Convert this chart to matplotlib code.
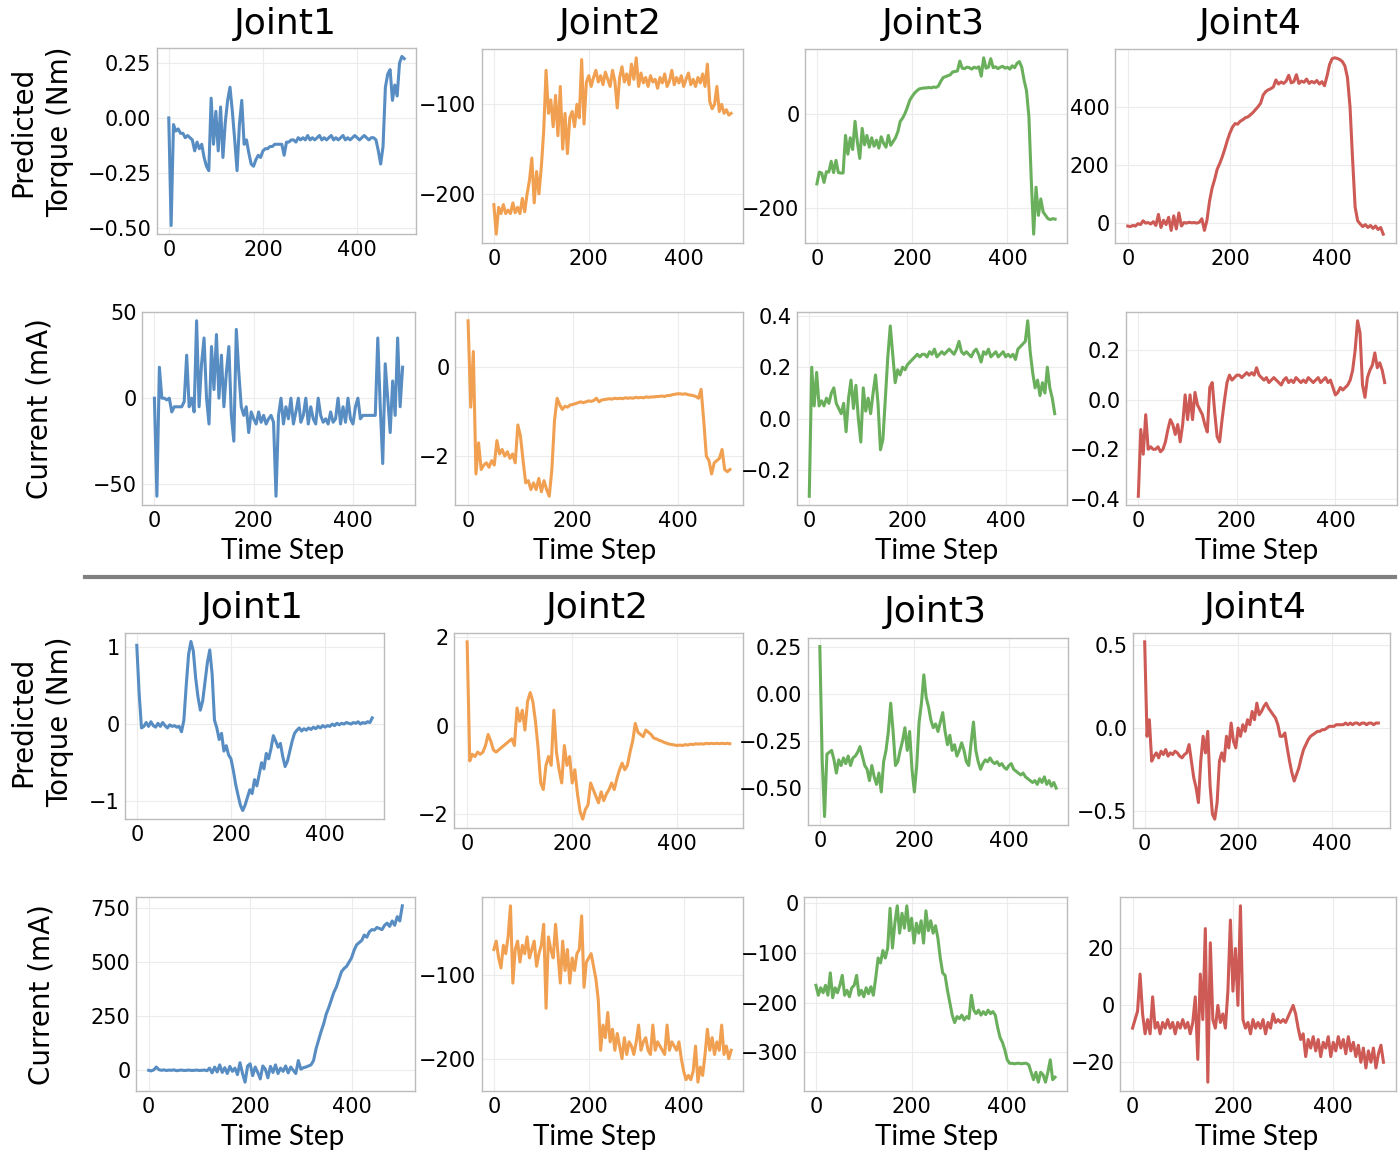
import numpy as np
import matplotlib
matplotlib.use('Agg')
import matplotlib.pyplot as plt

############################ DATA #########################################
t = np.arange(0, 501, 5)

# upper block: predicted torque (Nm)
tq_top_j1 = [0.0, -0.49, -0.03, -0.06, -0.05, -0.07, -0.07, -0.09, -0.08, -0.09,
             -0.1, -0.15, -0.11, -0.14, -0.12, -0.18, -0.22, -0.24, 0.09, -0.12,
             0.03, -0.15, 0.05, -0.18, -0.02, 0.08, 0.14, 0.03, -0.1, -0.24,
             -0.03, 0.08, -0.12, -0.1, -0.16, -0.21, -0.22, -0.19, -0.17, -0.18,
             -0.15, -0.14, -0.14, -0.13, -0.13, -0.12, -0.12, -0.12, -0.12, -0.17,
             -0.11, -0.11, -0.1, -0.1, -0.11, -0.09, -0.1, -0.09, -0.1, -0.08,
             -0.1, -0.09, -0.1, -0.09, -0.08, -0.1, -0.09, -0.1, -0.09, -0.08,
             -0.1, -0.09, -0.1, -0.09, -0.08, -0.1, -0.09, -0.1, -0.09, -0.08,
             -0.09, -0.1, -0.09, -0.08, -0.09, -0.1, -0.09, -0.09, -0.1, -0.15,
             -0.21, -0.13, 0.14, 0.2, 0.22, 0.08, 0.15, 0.1, 0.25, 0.28,
             0.27]
tq_top_j2 = [-212, -245, -215, -222, -212, -222, -218, -222, -210, -221,
             -215, -222, -205, -220, -200, -185, -160, -210, -175, -200,
             -170, -130, -62, -110, -95, -125, -90, -135, -80, -150,
             -110, -155, -115, -108, -125, -100, -115, -50, -122, -75,
             -68, -80, -70, -62, -75, -68, -78, -64, -72, -80,
             -62, -74, -104, -70, -58, -75, -66, -78, -55, -72,
             -48, -80, -65, -76, -70, -80, -68, -75, -72, -82,
             -70, -76, -66, -80, -74, -62, -78, -70, -76, -68,
             -80, -72, -65, -78, -72, -80, -70, -76, -66, -80,
             -55, -97, -105, -100, -80, -108, -100, -110, -106, -112,
             -110]
tq_top_j3 = [-148, -123, -125, -145, -122, -123, -100, -124, -98, -124,
             -125, -125, -45, -85, -50, -75, -15, -60, -94, -30,
             -65, -45, -70, -50, -68, -55, -72, -48, -62, -70,
             -45, -66, -58, -50, -37, -15, -8, 2, 15, 30,
             38, 45, 50, 54, 55, 56, 56, 57, 56, 58,
             57, 60, 70, 78, 80, 82, 84, 90, 91, 92,
             113, 98, 97, 100, 99, 96, 100, 98, 101, 81,
             120, 98, 100, 118, 99, 101, 97, 100, 102, 98,
             100, 96, 103, 99, 108, 112, 100, 72, 50, -5,
             -140, -255, -155, -215, -180, -208, -215, -222, -224, -222,
             -223]
tq_top_j4 = [-10, -12, -8, -10, -2, -5, 8, 0, 2, -3,
             5, -8, 30, -15, 10, -5, 20, -25, 25, -20,
             35, -10, 2, 0, 3, 1, 2, 0, 3, 15,
             -25, 10, 75, 120, 150, 185, 205, 228, 255, 285,
             310, 330, 342, 340, 350, 355, 362, 365, 372, 380,
             390, 400, 412, 440, 452, 458, 462, 468, 492, 478,
             485, 480, 488, 508, 482, 486, 510, 480, 488, 484,
             495, 480, 487, 482, 490, 478, 486, 472, 505, 545,
             565, 568, 566, 562, 555, 540, 500, 400, 220, 55,
             8, -3, -12, -5, -15, -8, -18, -10, -22, -15,
             -38]

# upper block: current (mA)
cur_top_j1 = [0, -57, 18, 0, 0, -1, 0, -8, -5, -5,
              -5, -5, -2, 25, -5, 0, -8, 45, -5, 20,
              35, 0, -15, 30, 5, 37, 0, 25, -5, 15,
              30, -10, -25, 40, 15, -5, -10, -5, -20, -8,
              -12, -15, -8, -14, -10, -15, -12, -10, -14, -57,
              -10, 0, -15, -5, -12, 0, -15, -8, 0, -14,
              -10, 0, -15, -5, -12, -15, 0, -10, -14, -12,
              -15, -8, -14, -12, 0, -15, -5, -14, 0, -12,
              -15, -5, 0, -12, -10, -10, -10, -10, -10, -10,
              35, -5, -38, 20, 0, -20, 10, -10, 35, -5,
              18]
cur_top_j2 = [1.04, -0.9, 0.35, -2.4, -1.7, -2.3, -2.2, -2.15, -2.25, -2.1,
              -2.2, -1.65, -1.95, -1.85, -2.0, -1.9, -2.05, -1.95, -2.15, -1.3,
              -1.55, -2.1, -2.6, -2.55, -2.75, -2.6, -2.75, -2.5, -2.8, -2.55,
              -2.75, -2.9, -2.3, -1.2, -0.7, -0.85, -0.95, -0.88, -0.9, -0.85,
              -0.84, -0.82, -0.8, -0.78, -0.8, -0.78, -0.76, -0.77, -0.75, -0.7,
              -0.78, -0.74, -0.73, -0.72, -0.71, -0.72, -0.7, -0.71, -0.7, -0.71,
              -0.69, -0.7, -0.69, -0.7, -0.68, -0.69, -0.68, -0.69, -0.67, -0.68,
              -0.67, -0.67, -0.66, -0.66, -0.65, -0.66, -0.64, -0.64, -0.62, -0.61,
              -0.6, -0.6, -0.61, -0.6, -0.62, -0.63, -0.64, -0.66, -0.7, -0.5,
              -1.2, -2.0, -2.1, -2.4, -2.15, -2.1, -2.05, -1.85, -2.3, -2.35,
              -2.3]
cur_top_j3 = [-0.3, 0.2, 0.05, 0.18, 0.05, 0.07, 0.05, 0.08, 0.06, 0.1,
              0.12, 0.06, 0.04, 0.02, 0.06, -0.05, 0.08, 0.15, 0.04, 0.13,
              0.0, -0.09, 0.12, 0.03, 0.08, 0.02, 0.1, 0.17, 0.06, -0.12,
              -0.08, 0.08, 0.24, 0.36, 0.25, 0.14, 0.19, 0.17, 0.2, 0.19,
              0.21, 0.22, 0.23, 0.24, 0.25, 0.24, 0.25, 0.25, 0.24, 0.26,
              0.25, 0.27, 0.24, 0.25, 0.26, 0.25, 0.26, 0.27, 0.26, 0.25,
              0.27, 0.3, 0.26, 0.25, 0.26, 0.25, 0.24, 0.26, 0.27, 0.25,
              0.22, 0.26, 0.25, 0.27, 0.24, 0.25, 0.26, 0.24, 0.25, 0.26,
              0.24, 0.25, 0.24, 0.25, 0.23, 0.27, 0.28, 0.29, 0.3, 0.38,
              0.26, 0.18, 0.12, 0.15, 0.09, 0.14, 0.1, 0.2, 0.12, 0.08,
              0.02]
cur_top_j4 = [-0.39, -0.12, -0.22, -0.06, -0.2, -0.19, -0.2, -0.2, -0.19, -0.21,
              -0.2, -0.17, -0.12, -0.08, -0.1, -0.14, -0.1, -0.17, -0.1, 0.02,
              -0.08, 0.02, -0.08, 0.03, -0.02, -0.04, -0.06, -0.1, -0.13, 0.05,
              0.07, -0.05, -0.15, -0.17, -0.08, 0.0, 0.07, 0.1, 0.08, 0.09,
              0.1, 0.1, 0.09, 0.1, 0.11, 0.1, 0.11, 0.1, 0.13, 0.1,
              0.09, 0.08, 0.09, 0.07, 0.08, 0.09, 0.08, 0.07, 0.06, 0.08,
              0.09, 0.07, 0.08, 0.07, 0.09, 0.08, 0.07, 0.08, 0.07, 0.09,
              0.08, 0.07, 0.08, 0.09, 0.07, 0.08, 0.09, 0.07, 0.08, 0.05,
              0.02, 0.03, 0.05, 0.04, 0.05, 0.06, 0.08, 0.12, 0.2, 0.32,
              0.27, 0.06, 0.01, 0.09, 0.12, 0.14, 0.19, 0.13, 0.15, 0.12,
              0.07]

# lower block: predicted torque (Nm)
tq_bot_j1 = [1.02, 0.4, -0.05, -0.03, 0.02, -0.03, 0.03, -0.02, -0.04, 0.01,
             -0.03, 0.02, -0.02, -0.05, -0.01, -0.03, -0.02, -0.04, -0.03, -0.1,
             0.05, 0.5, 0.9, 1.07, 0.95, 0.6, 0.35, 0.18, 0.3, 0.55,
             0.8, 0.96, 0.65, 0.05, -0.05, -0.2, -0.12, -0.35, -0.28, -0.4,
             -0.45, -0.6, -0.78, -0.92, -1.05, -1.12, -1.05, -0.95, -0.85, -0.9,
             -0.72, -0.8, -0.65, -0.5, -0.58, -0.38, -0.45, -0.32, -0.15, -0.22,
             -0.3, -0.25, -0.42, -0.55, -0.48, -0.35, -0.22, -0.12, -0.08, -0.05,
             -0.09, -0.06, -0.08, -0.05, -0.07, -0.04, -0.06, -0.03, -0.05, -0.02,
             -0.04, -0.02, -0.03, 0.0, -0.02, 0.01, -0.01, 0.01, 0.0, 0.02,
             0.01, 0.0, 0.02, 0.01, 0.03, 0.0, 0.02, 0.01, 0.03, 0.02,
             0.08]
tq_bot_j2 = [1.9, -0.8, -0.65, -0.7, -0.6, -0.65, -0.6, -0.45, -0.2, -0.35,
             -0.55, -0.6, -0.55, -0.5, -0.45, -0.4, -0.35, -0.3, -0.45, 0.4,
             0.1, 0.35, -0.1, 0.55, 0.75, 0.55, 0.1, -0.5, -1.3, -1.45,
             -0.9, -0.7, -0.9, 0.35, -0.6, -1.0, -1.3, -0.45, -0.9, -0.7,
             -1.3, -1.0, -1.55, -1.95, -2.12, -1.9, -1.8, -1.3, -1.45, -1.6,
             -1.75, -1.5, -1.7, -1.55, -1.45, -1.3, -1.45, -1.2, -1.0, -0.85,
             -1.0, -0.9, -0.6, -0.35, 0.05, -0.15, -0.2, -0.25, -0.1, -0.15,
             -0.2, -0.28, -0.3, -0.33, -0.35, -0.38, -0.4, -0.42, -0.43, -0.44,
             -0.45, -0.44, -0.45, -0.43, -0.44, -0.42, -0.43, -0.41, -0.42, -0.41,
             -0.42, -0.4, -0.41, -0.4, -0.41, -0.4, -0.41, -0.4, -0.41, -0.4,
             -0.41]
tq_bot_j3 = [0.25, -0.35, -0.65, -0.32, -0.31, -0.3, -0.35, -0.42, -0.35, -0.38,
             -0.34, -0.37, -0.33, -0.38, -0.34, -0.33, -0.31, -0.28, -0.33, -0.38,
             -0.4, -0.46, -0.38, -0.44, -0.48, -0.42, -0.52, -0.36, -0.3, -0.2,
             -0.05, -0.2, -0.38, -0.36, -0.3, -0.25, -0.18, -0.3, -0.2, -0.4,
             -0.52, -0.38, -0.15, -0.05, 0.1, -0.02, -0.07, -0.14, -0.18, -0.16,
             -0.2, -0.15, -0.1, -0.2, -0.27, -0.22, -0.3, -0.27, -0.33, -0.3,
             -0.26, -0.3, -0.36, -0.38, -0.26, -0.15, -0.3, -0.36, -0.4, -0.37,
             -0.35, -0.36, -0.34, -0.36, -0.37, -0.36, -0.38, -0.37, -0.39, -0.4,
             -0.38, -0.37, -0.4, -0.41, -0.42, -0.43, -0.42, -0.44, -0.45, -0.46,
             -0.47, -0.46, -0.48, -0.45, -0.47, -0.44, -0.48, -0.46, -0.49, -0.47,
             -0.5]
tq_bot_j4 = [0.52, -0.05, 0.05, -0.2, -0.17, -0.15, -0.18, -0.14, -0.16, -0.13,
             -0.17, -0.15, -0.16, -0.14, -0.15, -0.17, -0.18, -0.16, -0.15, -0.1,
             -0.2, -0.3, -0.36, -0.45, -0.2, -0.05, -0.15, -0.02, -0.35, -0.52,
             -0.55, -0.45, -0.2, -0.15, -0.2, -0.05, -0.12, 0.03, -0.08, -0.12,
             0.0, -0.05, 0.02, -0.02, 0.05, 0.02, 0.1, 0.05, 0.15, 0.08,
             0.1, 0.13, 0.15, 0.12, 0.1, 0.08, 0.06, 0.02, -0.05, -0.05,
             -0.03, -0.12, -0.2, -0.27, -0.32, -0.28, -0.24, -0.18, -0.13, -0.1,
             -0.07, -0.05, -0.04, -0.03, -0.02, -0.02, -0.01, -0.01, 0.0, 0.01,
             0.01, 0.01, 0.02, 0.02, 0.02, 0.02, 0.03, 0.02, 0.03, 0.02,
             0.03, 0.03, 0.02, 0.03, 0.03, 0.02, 0.03, 0.03, 0.02, 0.03,
             0.03]

# lower block: current (mA)
cur_bot_j1 = [0, -3, 2, 15, 3, 0, 2, -1, 1, 0,
              2, -2, 0, 1, -1, 0, 1, -1, 0, 1,
              -1, 0, 1, -2, 10, -12, 15, -8, 25, -10,
              12, -15, 18, -5, 10, -20, 35, -15, -55, 20,
              30, -25, 15, -10, -40, 20, 5, -35, 18, -10,
              25, -15, 10, -5, 20, -12, 15, 0, -15, 45,
              5, 12, 15, 20, 25, 45, 100, 140, 180, 215,
              260, 290, 325, 360, 385, 420, 455, 470, 480, 500,
              520, 555, 580, 590, 600, 625, 615, 640, 650, 648,
              660, 655, 650, 670, 680, 665, 690, 670, 710, 690,
              760]
cur_bot_j2 = [-70, -60, -80, -92, -65, -75, -55, -18, -110, -70,
              -60, -85, -65, -75, -55, -80, -70, -60, -90, -75,
              -65, -40, -140, -55, -70, -80, -40, -75, -110, -60,
              -95, -70, -110, -80, -95, -75, -70, -30, -115, -85,
              -80, -75, -90, -105, -130, -190, -160, -175, -145, -180,
              -165, -190, -170, -185, -200, -175, -195, -180, -185, -195,
              -180, -160, -190, -180, -175, -190, -195, -160, -190, -180,
              -185, -190, -195, -160, -190, -180, -185, -190, -180, -200,
              -215, -225, -220, -225, -215, -185, -228, -210, -220, -195,
              -165, -190, -175, -195, -180, -190, -160, -195, -185, -200,
              -190]
cur_bot_j3 = [-165, -185, -170, -180, -165, -185, -140, -190, -170, -180,
              -165, -145, -185, -175, -188, -170, -165, -145, -185, -175,
              -188, -170, -182, -168, -185, -150, -110, -120, -95, -110,
              -90, -10, -90, -40, -5, -60, -20, -50, -5, -55,
              -30, -80, -40, -60, -35, -80, -15, -55, -35, -60,
              -45, -70, -110, -140, -145, -175, -200, -225, -240, -228,
              -232, -225, -235, -228, -232, -185, -215, -222, -215, -225,
              -218, -224, -215, -222, -218, -225, -250, -270, -280, -295,
              -315, -322, -322, -323, -322, -322, -323, -322, -322, -325,
              -340, -355, -340, -360, -340, -345, -360, -340, -315, -355,
              -350]
cur_bot_j4 = [-8, -5, -2, 11, -3, -10, -5, -10, 3, -8,
              -6, -10, -6, -8, -5, -8, -6, -10, -6, -8,
              -5, -8, -6, -10, -6, 3, -19, 11, -5, 27,
              -27, 22, -5, -8, 0, -6, -3, -8, 5, 30,
              5, 20, 0, 35, -5, -8, -6, -10, -5, -8,
              -6, -8, -5, -10, -6, -8, -3, -6, -5, -6,
              -5, -6, -4, -2, 0, -3, -8, -12, -10, -18,
              -12, -15, -11, -16, -12, -18, -13, -15, -11, -18,
              -13, -16, -11, -15, -12, -17, -11, -16, -13, -18,
              -14, -20, -15, -22, -16, -20, -15, -22, -17, -14,
              -20]

joint_names = ['Joint1', 'Joint2', 'Joint3', 'Joint4']
colors = ['#578dc2', '#f0a050', '#6aaf5c', '#cd5a55']

rows = [
    [tq_top_j1, tq_top_j2, tq_top_j3, tq_top_j4],
    [cur_top_j1, cur_top_j2, cur_top_j3, cur_top_j4],
    [tq_bot_j1, tq_bot_j2, tq_bot_j3, tq_bot_j4],
    [cur_bot_j1, cur_bot_j2, cur_bot_j3, cur_bot_j4],
]
yticks = [
    [[-0.5, -0.25, 0, 0.25], [-200, -100], [-200, 0], [0, 200, 400]],
    [[-50, 0, 50], [-2, 0], [-0.2, 0, 0.2, 0.4], [-0.4, -0.2, 0, 0.2]],
    [[-1, 0, 1], [-2, 0, 2], [-0.5, -0.25, 0, 0.25], [-0.5, 0, 0.5]],
    [[0, 250, 500, 750], [-200, -100], [-300, -200, -100, 0], [-20, 0, 20]],
]

############################ LAYOUT (pixels) ##############################
W, H = 1400, 1164
# left, top, right, bottom of each axes box
boxes = [
    [(157, 48, 416, 234), (482, 49, 743, 243), (805, 49, 1067, 243), (1115, 49, 1396, 243)],
    [(142, 312, 415, 505), (455, 312, 743, 505), (797, 312, 1067, 505), (1126, 312, 1397, 505)],
    [(125, 633, 384, 819), (454, 633, 743, 828), (808, 638, 1068, 825), (1133, 633, 1390, 828)],
    [(136, 897, 415, 1091), (482, 897, 743, 1091), (804, 897, 1067, 1091), (1120, 897, 1396, 1091)],
]
title_pos = [[(285, 24), (610, 24), (933, 24), (1250, 24)],
             [(252, 608), (597, 608), (935, 612), (1255, 608)]]
xlabel_x = [283, 595, 937, 1257]
xlabel_y = [551, 1137]

plt.rcParams['font.family'] = 'DejaVu Sans'
fig = plt.figure(figsize=(W / 100, H / 100), dpi=100)


def px_rect(b):
    l, tp, r, bt = b
    return [l / W, 1 - bt / H, (r - l) / W, (bt - tp) / H]


for i in range(4):
    for j in range(4):
        ax = fig.add_axes(px_rect(boxes[i][j]))
        ax.plot(t, rows[i][j], color=colors[j], lw=2.2)
        ax.set_yticks(yticks[i][j])
        ax.set_xticks([0, 200, 400])
        ax.tick_params(length=0, labelsize=15, pad=4, colors='black')
        ax.grid(True, color='#ececec', lw=0.8)
        for s in ax.spines.values():
            s.set_color('#bcbcbc')
            s.set_linewidth(1.0)

for blk in range(2):
    for j in range(4):
        x, y = title_pos[blk][j]
        fig.text(x / W, 1 - y / H, joint_names[j], ha='center', va='center', fontsize=26)
    for j in range(4):
        fig.text(xlabel_x[j] / W, 1 - xlabel_y[blk] / H, 'Time Step', ha='center', va='center',
                 fontsize=20, family=['Lato', 'DejaVu Sans'])

# row labels
fig.text(23 / W, 1 - 132 / H, 'Predicted', rotation=90, ha='center', va='center', fontsize=20)
fig.text(60 / W, 1 - 132 / H, 'Torque (Nm)', rotation=90, ha='center', va='center', fontsize=20)
fig.text(40 / W, 1 - 409 / H, 'Current (mA)', rotation=90, ha='center', va='center', fontsize=20)
fig.text(23 / W, 1 - 722 / H, 'Predicted', rotation=90, ha='center', va='center', fontsize=20)
fig.text(60 / W, 1 - 722 / H, 'Torque (Nm)', rotation=90, ha='center', va='center', fontsize=20)
fig.text(42 / W, 1 - 995 / H, 'Current (mA)', rotation=90, ha='center', va='center', fontsize=20)

# separator between the two blocks
fig.add_artist(plt.Line2D([85 / W, 1395 / W], [1 - 577 / H, 1 - 577 / H], color='#808080', lw=3))

fig.savefig('out.png', dpi=100)
